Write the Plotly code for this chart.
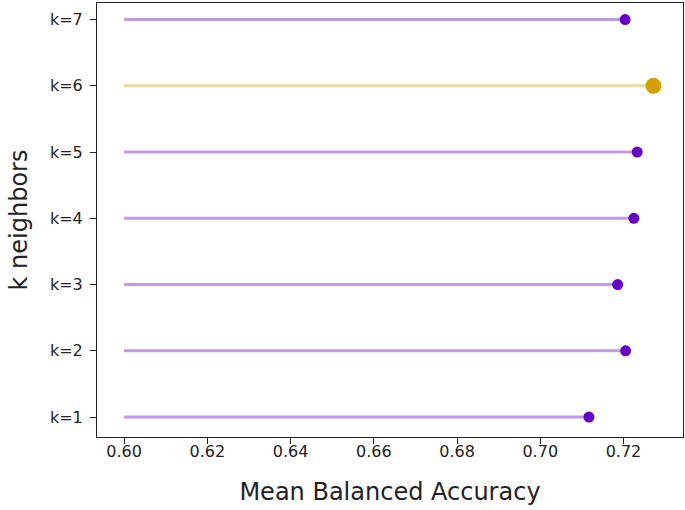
import plotly.graph_objects as go

# mean balanced accuracy per k
k_labels = ['k=1', 'k=2', 'k=3', 'k=4', 'k=5', 'k=6', 'k=7']
accuracy = [0.7117, 0.7205, 0.7186, 0.7225, 0.7233, 0.7272, 0.7204]
line_start = 0.60
best_k = 'k=6'

purple = 'rgb(102, 0, 196)'
purple_line = 'rgba(102, 0, 196, 0.4)'
gold = 'rgb(212, 160, 0)'
gold_line = 'rgba(212, 160, 0, 0.4)'

fig = go.Figure()

for k, acc in zip(k_labels, accuracy):
    best = k == best_k
    fig.add_trace(go.Scatter(
        x=[line_start, acc], y=[k, k],
        mode='lines',
        line=dict(color=gold_line if best else purple_line, width=3),
        hoverinfo='skip', showlegend=False
    ))

fig.add_trace(go.Scatter(
    x=accuracy, y=k_labels,
    mode='markers',
    marker=dict(
        color=[gold if k == best_k else purple for k in k_labels],
        size=[16 if k == best_k else 11 for k in k_labels],
        opacity=1,
        line=dict(width=0)
    ),
    showlegend=False
))

axis_style = dict(
    showline=True, linecolor='#222', linewidth=1, mirror=True,
    ticks='outside', ticklen=6, tickcolor='#222',
    showgrid=False, zeroline=False, automargin=False,
    tickfont=dict(size=16, color='#222'),
)

fig.update_xaxes(
    range=[0.5935, 0.7343],
    tickvals=[0.60, 0.62, 0.64, 0.66, 0.68, 0.70, 0.72],
    tickformat='.2f',
    ticklabelstandoff=-6,
    title=dict(text='Mean Balanced Accuracy', font=dict(size=24, color='#222'), standoff=22),
    **axis_style
)
fig.update_yaxes(
    categoryorder='array', categoryarray=k_labels,
    range=[-0.3, 6.25],
    ticklabelstandoff=4,
    title=dict(text='k neighbors', font=dict(size=24, color='#222'), standoff=15),
    **axis_style
)

fig.update_layout(
    width=685, height=510,
    margin=dict(l=97, r=2, t=3, b=73),
    paper_bgcolor='white', plot_bgcolor='white',
    font=dict(family='DejaVu Sans'),
)

fig.write_html('out.html', config={'displayModeBar': False},
               post_script="document.body.style.margin='0px';")
